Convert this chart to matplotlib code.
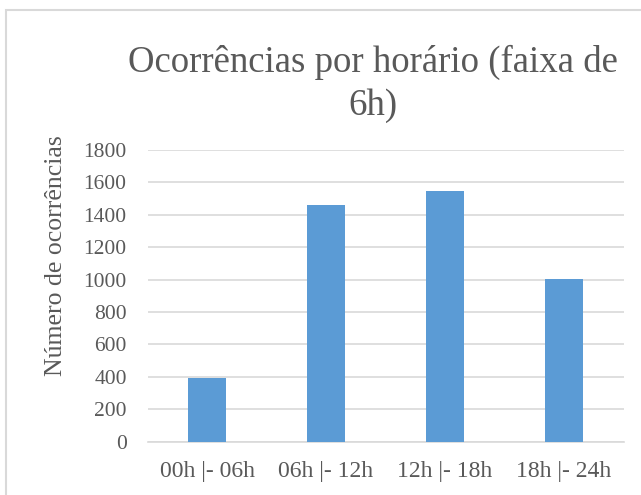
import matplotlib
matplotlib.use("Agg")
import matplotlib.pyplot as plt
from matplotlib.patches import Rectangle

# data
faixas = ["00h |- 06h", "06h |- 12h", "12h |- 18h", "18h |- 24h"]
ocorrencias = [390, 1458, 1545, 1004]
yticks = [0, 200, 400, 600, 800, 1000, 1200, 1400, 1600, 1800]

TXT = "#595959"
W, H = 641, 495
plt.rcParams["font.family"] = ["Liberation Serif", "DejaVu Serif"]

fig = plt.figure(figsize=(W / 100, H / 100), dpi=100)
fig.patch.set_facecolor("white")
# light chart-area border (runs off right and bottom edges)
fig.patches.append(Rectangle((6 / W, -0.1), 1.2, (H - 10) / H + 0.1,
                             transform=fig.transFigure, fill=False,
                             edgecolor="#d9d9d9", linewidth=1.5))

ax = fig.add_axes([147.5 / W, 1 - 441.7 / H, 476 / W, (441.7 - 150) / H])
x = range(len(faixas))
ax.bar(x, ocorrencias, width=0.32, color="#5b9bd5", zorder=3)
ax.set_xlim(-0.5, len(faixas) - 0.5)
ax.set_ylim(0, 1800)
ax.set_yticks(yticks)
ax.set_xticks(list(x))
ax.set_xticklabels(faixas)
ax.grid(axis="y", color="#d9d9d9", linewidth=1.2, zorder=0)
for s in ("top", "right", "left"):
    ax.spines[s].set_visible(False)
ax.spines["bottom"].set_color("#d9d9d9")
ax.spines["bottom"].set_linewidth(1.2)
ax.tick_params(axis="both", length=0, colors=TXT)
ax.tick_params(axis="y", pad=15, labelsize=15.5)
ax.tick_params(axis="x", pad=14, labelsize=17)

fig.text(56 / W, 1 - 256 / H, "Número de ocorrências", rotation=90, ha="center",
         va="center", fontsize=18.5, color=TXT)
fig.text(373 / W, 1 - 72 / H, "Ocorrências por horário (faixa de", ha="center",
         va="baseline", fontsize=26.5, color=TXT)
fig.text(373 / W, 1 - 115 / H, "6h)", ha="center", va="baseline", fontsize=26.5, color=TXT)

fig.savefig("out.png", dpi=100, facecolor="white")
